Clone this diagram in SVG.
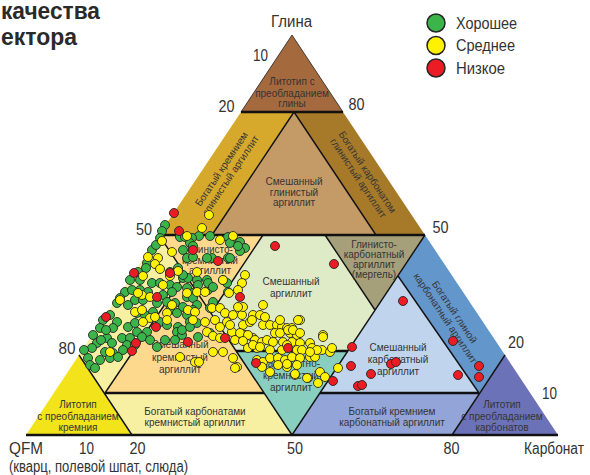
<svg xmlns="http://www.w3.org/2000/svg" width="590" height="475" viewBox="0 0 590 475">
<style>
.lbl{font-family:"Liberation Sans",Arial,sans-serif;font-size:10px;fill:#353535;text-anchor:middle}
.ax{font-family:"Liberation Sans",Arial,sans-serif;font-size:16px;fill:#333}
.mid{text-anchor:middle}
.ln{stroke:#111;stroke-width:1.4;fill:none}
.hl{stroke:#111;stroke-width:2.6;fill:none}
.d{stroke:#262626;stroke-width:0.9}
.g{fill:#3BB44A}.y{fill:#FFF200}.r{fill:#EC1C24}
</style>
<rect width="590" height="475" fill="#fff"/>
<g id="title">
<text x="1" y="19" font-family="Liberation Sans,Arial,sans-serif" font-weight="bold" font-size="24" fill="#2a2a2a" textLength="99" lengthAdjust="spacingAndGlyphs">качества</text>
<text x="1" y="45" font-family="Liberation Sans,Arial,sans-serif" font-weight="bold" font-size="24" fill="#2a2a2a" textLength="76" lengthAdjust="spacingAndGlyphs">ектора</text>
</g>
<g id="regions">
<g id="clay-dominated"><polygon points="292,35 241,112 343,112" fill="#A5693E" stroke="#222" stroke-width="0.8"/></g>
<g id="si-rich-clay"><polygon points="241,112 294,112 212,235 159,235" fill="#D6A92C"/></g>
<g id="mixed-clay"><polygon points="294,112 376,235 212,235" fill="#C49B66"/></g>
<g id="carb-rich-clay"><polygon points="294,112 343,112 425,235 376,235" fill="#A77A2A"/></g>
<g id="clay-rich-si"><polygon points="159,235 185,274.5 105,393 79,355" fill="#F7F0A2"/></g>
<g id="clay-si"><polygon points="159,235 263,235 211,313" fill="#FDD98E"/></g>
<g id="mixed-si"><polygon points="185,274.5 264,393 105,393" fill="#FDD98E"/></g>
<g id="mixed"><polygon points="263,235 325,235 375,310 348,351 236,351 211,313" fill="#DFEAC7"/></g>
<g id="marl"><polygon points="325,235 425,235 375,310" fill="#A5A07A"/></g>
<g id="clay-rich-carb"><polygon points="425,235 505,355 479,393 398,276" fill="#6396CB"/></g>
<g id="mixed-carb"><polygon points="398,276 479,393 320,393" fill="#C1D4EE"/></g>
<g id="carb-si"><polygon points="236,351 348,351 292,435" fill="#88CFBF"/></g>
<g id="si-dominated"><polygon points="26,435 79,355 132,435" fill="#F2E31B"/></g>
<g id="carb-rich-si"><polygon points="105,393 264,393 292,435 132,435" fill="#F7F0A2"/></g>
<g id="si-rich-carb"><polygon points="320,393 479,393 452,435 292,435" fill="#93A4D8"/></g>
<g id="carb-dominated"><polygon points="452,435 558,435 505,355" fill="#6C72B7"/></g>
</g>
<g id="connectors">
<line class="hl" x1="241" y1="112" x2="343" y2="112"/>
<line class="hl" x1="159" y1="235" x2="425" y2="235"/>
<line class="hl" x1="105" y1="393" x2="264" y2="393"/>
<line class="hl" x1="320" y1="393" x2="479" y2="393"/>
<line class="hl" x1="236" y1="351" x2="348" y2="351"/>
<line class="hl" x1="26" y1="435" x2="558" y2="435"/>
<line class="ln" x1="294" y1="112" x2="212" y2="235"/>
<line class="ln" x1="294" y1="112" x2="376" y2="235"/>
<line class="ln" x1="185" y1="274.5" x2="105" y2="393"/>
<line class="ln" x1="159" y1="235" x2="292" y2="435"/>
<line class="ln" x1="425" y1="235" x2="292" y2="435"/>
<line class="ln" x1="263" y1="235" x2="211" y2="313"/>
<line class="ln" x1="325" y1="235" x2="375" y2="310"/>
<line class="ln" x1="398" y1="276" x2="479" y2="393"/>
<line class="ln" x1="79" y1="355" x2="132" y2="435"/>
<line class="ln" x1="505" y1="355" x2="452" y2="435"/>
</g>
<g id="labels">
<text class="lbl" font-size="10.5"><tspan x="292" y="85">Литотип с</tspan><tspan x="292" y="96.5">преобладанием</tspan><tspan x="292" y="107">глины</tspan></text>
<text class="lbl" transform="translate(226,172) rotate(-56.4)"><tspan x="0" y="-2">Богатый кремнием</tspan><tspan x="0" y="9">глинистый аргиллит</tspan></text>
<text class="lbl"><tspan x="294" y="185">Смешанный</tspan><tspan x="294" y="195.5">глинистый</tspan><tspan x="294" y="206">аргиллит</tspan></text>
<text class="lbl" transform="translate(363,175) rotate(56.4)"><tspan x="0" y="-2">Богатый карбонатом</tspan><tspan x="0" y="9">глинистый аргиллит</tspan></text>
<text class="lbl"><tspan x="210" y="253">Глинисто-</tspan><tspan x="210" y="264">кремнистый</tspan><tspan x="210" y="274">аргиллит</tspan></text>
<text class="lbl" font-size="10.5"><tspan x="291" y="285">Смешанный</tspan><tspan x="291" y="297">аргиллит</tspan></text>
<text class="lbl" font-size="9"><tspan x="374" y="248">Глинисто-</tspan><tspan x="374" y="258">карбонатный</tspan><tspan x="374" y="268">аргиллит</tspan><tspan x="374" y="278">(мергель)</tspan></text>
<text class="lbl" transform="translate(450,315) rotate(56.4)"><tspan x="0" y="-2">Богатый глиной</tspan><tspan x="0" y="9">карбонатный аргиллит</tspan></text>
<text class="lbl"><tspan x="180" y="348">Смешанный</tspan><tspan x="180" y="361">кремнистый</tspan><tspan x="180" y="373">аргиллит</tspan></text>
<text class="lbl"><tspan x="291" y="367">Карбонатно-</tspan><tspan x="291" y="379">кремнистый</tspan><tspan x="291" y="391">аргиллит</tspan></text>
<text class="lbl"><tspan x="398" y="351">Смешанный</tspan><tspan x="398" y="363">карбонатный</tspan><tspan x="398" y="375">аргиллит</tspan></text>
<text class="lbl" font-size="9.5"><tspan x="78" y="408">Литотип</tspan><tspan x="78" y="420">с преобладанием</tspan><tspan x="78" y="431">кремния</tspan></text>
<text class="lbl" font-size="9.5"><tspan x="195" y="415">Богатый карбонатами</tspan><tspan x="195" y="426">кремнистый аргиллит</tspan></text>
<text class="lbl" font-size="9.5"><tspan x="392" y="415">Богатый кремнием</tspan><tspan x="392" y="426">карбонатный аргиллит</tspan></text>
<text class="lbl" font-size="9.5"><tspan x="502" y="408">Литотип</tspan><tspan x="502" y="420">с преобладанием</tspan><tspan x="502" y="431">карбонатов</tspan></text>
</g>
<g id="points">
<g id="good">
<circle class="d g" cx="165" cy="225" r="4.5"/><circle class="d g" cx="162" cy="231" r="4.5"/><circle class="d g" cx="180" cy="237" r="4.5"/><circle class="d g" cx="199" cy="236" r="4.5"/><circle class="d g" cx="210" cy="236" r="4.5"/><circle class="d g" cx="160" cy="238" r="4.5"/><circle class="d g" cx="192" cy="238" r="4.5"/><circle class="d g" cx="233" cy="240" r="4.5"/><circle class="d g" cx="240" cy="242" r="4.5"/><circle class="d g" cx="245" cy="248" r="4.5"/><circle class="d g" cx="240" cy="251" r="4.5"/><circle class="d g" cx="183" cy="250" r="4.5"/><circle class="d g" cx="187" cy="258" r="4.5"/><circle class="d g" cx="193" cy="257" r="4.5"/><circle class="d g" cx="212" cy="258" r="4.5"/><circle class="d g" cx="228" cy="258" r="4.5"/><circle class="d g" cx="147" cy="263" r="4.5"/><circle class="d g" cx="170" cy="272" r="4.5"/><circle class="d g" cx="178" cy="268" r="4.5"/><circle class="d g" cx="183" cy="278" r="4.5"/><circle class="d g" cx="188" cy="278" r="4.5"/><circle class="d g" cx="197" cy="280" r="4.5"/><circle class="d g" cx="207" cy="280" r="4.5"/><circle class="d g" cx="208" cy="290" r="4.5"/><circle class="d g" cx="227" cy="283" r="4.5"/><circle class="d g" cx="228" cy="292" r="4.5"/><circle class="d g" cx="130" cy="280" r="4.5"/><circle class="d g" cx="140" cy="280" r="4.5"/><circle class="d g" cx="152" cy="283" r="4.5"/><circle class="d g" cx="160" cy="283" r="4.5"/><circle class="d g" cx="170" cy="285" r="4.5"/><circle class="d g" cx="177" cy="287" r="4.5"/><circle class="d g" cx="187" cy="288" r="4.5"/><circle class="d g" cx="140" cy="290" r="4.5"/><circle class="d g" cx="148" cy="292" r="4.5"/><circle class="d g" cx="163" cy="295" r="4.5"/><circle class="d g" cx="172" cy="292" r="4.5"/><circle class="d g" cx="187" cy="297" r="4.5"/><circle class="d g" cx="193" cy="293" r="4.5"/><circle class="d g" cx="117" cy="303" r="4.5"/><circle class="d g" cx="128" cy="305" r="4.5"/><circle class="d g" cx="135" cy="300" r="4.5"/><circle class="d g" cx="143" cy="300" r="4.5"/><circle class="d g" cx="157" cy="303" r="4.5"/><circle class="d g" cx="167" cy="302" r="4.5"/><circle class="d g" cx="175" cy="303" r="4.5"/><circle class="d g" cx="183" cy="307" r="4.5"/><circle class="d g" cx="170" cy="310" r="4.5"/><circle class="d g" cx="177" cy="313" r="4.5"/><circle class="d g" cx="187" cy="315" r="4.5"/><circle class="d g" cx="110" cy="315" r="4.5"/><circle class="d g" cx="137" cy="313" r="4.5"/><circle class="d g" cx="145" cy="315" r="4.5"/><circle class="d g" cx="153" cy="312" r="4.5"/><circle class="d g" cx="103" cy="320" r="4.5"/><circle class="d g" cx="117" cy="322" r="4.5"/><circle class="d g" cx="128" cy="327" r="4.5"/><circle class="d g" cx="135" cy="323" r="4.5"/><circle class="d g" cx="160" cy="322" r="4.5"/><circle class="d g" cx="167" cy="325" r="4.5"/><circle class="d g" cx="178" cy="327" r="4.5"/><circle class="d g" cx="190" cy="322" r="4.5"/><circle class="d g" cx="197" cy="323" r="4.5"/><circle class="d g" cx="113" cy="328" r="4.5"/><circle class="d g" cx="100" cy="328" r="4.5"/><circle class="d g" cx="137" cy="332" r="4.5"/><circle class="d g" cx="147" cy="332" r="4.5"/><circle class="d g" cx="177" cy="332" r="4.5"/><circle class="d g" cx="182" cy="335" r="4.5"/><circle class="d g" cx="93" cy="335" r="4.5"/><circle class="d g" cx="107" cy="338" r="4.5"/><circle class="d g" cx="122" cy="338" r="4.5"/><circle class="d g" cx="130" cy="338" r="4.5"/><circle class="d g" cx="142" cy="337" r="4.5"/><circle class="d g" cx="175" cy="340" r="4.5"/><circle class="d g" cx="97" cy="343" r="4.5"/><circle class="d g" cx="112" cy="343" r="4.5"/><circle class="d g" cx="127" cy="345" r="4.5"/><circle class="d g" cx="135" cy="345" r="4.5"/><circle class="d g" cx="157" cy="347" r="4.5"/><circle class="d g" cx="92" cy="348" r="4.5"/><circle class="d g" cx="105" cy="352" r="4.5"/><circle class="d g" cx="113" cy="353" r="4.5"/><circle class="d g" cx="123" cy="350" r="4.5"/><circle class="d g" cx="88" cy="358" r="4.5"/><circle class="d g" cx="100" cy="360" r="4.5"/><circle class="d g" cx="110" cy="358" r="4.5"/><circle class="d g" cx="90" cy="365" r="4.5"/><circle class="d g" cx="95" cy="368" r="4.5"/><circle class="d g" cx="185" cy="237" r="4.5"/><circle class="d g" cx="228" cy="237" r="4.5"/><circle class="d g" cx="190" cy="243" r="4.5"/><circle class="d g" cx="193" cy="246" r="4.5"/><circle class="d g" cx="230" cy="243" r="4.5"/><circle class="d g" cx="238" cy="246" r="4.5"/><circle class="d g" cx="207" cy="258" r="4.5"/><circle class="d g" cx="230" cy="258" r="4.5"/><circle class="d g" cx="183" cy="275" r="4.5"/><circle class="d g" cx="208" cy="283" r="4.5"/><circle class="d g" cx="223" cy="280" r="4.5"/><circle class="d g" cx="198" cy="285" r="4.5"/><circle class="d g" cx="213" cy="287" r="4.5"/><circle class="d g" cx="193" cy="298" r="4.5"/><circle class="d g" cx="197" cy="305" r="4.5"/><circle class="d g" cx="193" cy="310" r="4.5"/><circle class="d g" cx="210" cy="308" r="4.5"/><circle class="d g" cx="213" cy="302" r="4.5"/><circle class="d g" cx="182" cy="330" r="4.5"/><circle class="d g" cx="190" cy="327" r="4.5"/><circle class="d g" cx="210" cy="333" r="4.5"/><circle class="d g" cx="198" cy="337" r="4.5"/><circle class="d g" cx="152" cy="250" r="4.5"/><circle class="d g" cx="156" cy="245" r="4.5"/><circle class="d g" cx="146" cy="268" r="4.5"/><circle class="d g" cx="138" cy="272" r="4.5"/><circle class="d g" cx="125" cy="292" r="4.5"/><circle class="d g" cx="132" cy="290" r="4.5"/><circle class="d g" cx="120" cy="298" r="4.5"/><circle class="d g" cx="106" cy="330" r="4.5"/><circle class="d g" cx="101" cy="340" r="4.5"/><circle class="d g" cx="84" cy="350" r="4.5"/><circle class="d g" cx="118" cy="357" r="4.5"/><circle class="d g" cx="150" cy="340" r="4.5"/><circle class="d g" cx="165" cy="340" r="4.5"/>
</g>
<g id="medium">
<circle class="d y" cx="209" cy="215" r="4.5"/><circle class="d y" cx="202" cy="228" r="4.5"/><circle class="d y" cx="187" cy="236" r="4.5"/><circle class="d y" cx="162" cy="241" r="4.5"/><circle class="d y" cx="220" cy="240" r="4.5"/><circle class="d y" cx="233" cy="236" r="4.5"/><circle class="d y" cx="172" cy="252" r="4.5"/><circle class="d y" cx="148" cy="257" r="4.5"/><circle class="d y" cx="158" cy="258" r="4.5"/><circle class="d y" cx="155" cy="264" r="4.5"/><circle class="d y" cx="160" cy="269" r="4.5"/><circle class="d y" cx="178" cy="271" r="4.5"/><circle class="d y" cx="170" cy="276" r="4.5"/><circle class="d y" cx="143" cy="276" r="4.5"/><circle class="d y" cx="197" cy="272" r="4.5"/><circle class="d y" cx="223" cy="280" r="4.5"/><circle class="d y" cx="163" cy="285" r="4.5"/><circle class="d y" cx="120" cy="300" r="4.5"/><circle class="d y" cx="142" cy="295" r="4.5"/><circle class="d y" cx="150" cy="297" r="4.5"/><circle class="d y" cx="172" cy="305" r="4.5"/><circle class="d y" cx="187" cy="293" r="4.5"/><circle class="d y" cx="197" cy="292" r="4.5"/><circle class="d y" cx="205" cy="292" r="4.5"/><circle class="d y" cx="167" cy="313" r="4.5"/><circle class="d y" cx="150" cy="318" r="4.5"/><circle class="d y" cx="135" cy="312" r="4.5"/><circle class="d y" cx="143" cy="322" r="4.5"/><circle class="d y" cx="155" cy="317" r="4.5"/><circle class="d y" cx="167" cy="320" r="4.5"/><circle class="d y" cx="188" cy="310" r="4.5"/><circle class="d y" cx="195" cy="312" r="4.5"/><circle class="d y" cx="193" cy="320" r="4.5"/><circle class="d y" cx="205" cy="322" r="4.5"/><circle class="d y" cx="212" cy="308" r="4.5"/><circle class="d y" cx="220" cy="308" r="4.5"/><circle class="d y" cx="225" cy="313" r="4.5"/><circle class="d y" cx="233" cy="315" r="4.5"/><circle class="d y" cx="242" cy="315" r="4.5"/><circle class="d y" cx="243" cy="307" r="4.5"/><circle class="d y" cx="253" cy="315" r="4.5"/><circle class="d y" cx="215" cy="320" r="4.5"/><circle class="d y" cx="220" cy="327" r="4.5"/><circle class="d y" cx="227" cy="322" r="4.5"/><circle class="d y" cx="232" cy="332" r="4.5"/><circle class="d y" cx="207" cy="332" r="4.5"/><circle class="d y" cx="213" cy="336" r="4.5"/><circle class="d y" cx="220" cy="338" r="4.5"/><circle class="d y" cx="235" cy="340" r="4.5"/><circle class="d y" cx="245" cy="335" r="4.5"/><circle class="d y" cx="253" cy="338" r="4.5"/><circle class="d y" cx="257" cy="348" r="4.5"/><circle class="d y" cx="223" cy="352" r="4.5"/><circle class="d y" cx="213" cy="352" r="4.5"/><circle class="d y" cx="110" cy="352" r="4.5"/><circle class="d y" cx="180" cy="357" r="4.5"/><circle class="d y" cx="195" cy="362" r="4.5"/><circle class="d y" cx="233" cy="358" r="4.5"/><circle class="d y" cx="237" cy="367" r="4.5"/><circle class="d y" cx="257" cy="362" r="4.5"/><circle class="d y" cx="245" cy="275" r="4.5"/><circle class="d y" cx="229" cy="293" r="4.5"/><circle class="d y" cx="238" cy="307" r="4.5"/><circle class="d y" cx="263" cy="305" r="4.5"/><circle class="d y" cx="260" cy="315" r="4.5"/><circle class="d y" cx="230" cy="325" r="4.5"/><circle class="d y" cx="243" cy="325" r="4.5"/><circle class="d y" cx="250" cy="322" r="4.5"/><circle class="d y" cx="263" cy="325" r="4.5"/><circle class="d y" cx="270" cy="325" r="4.5"/><circle class="d y" cx="277" cy="325" r="4.5"/><circle class="d y" cx="282" cy="327" r="4.5"/><circle class="d y" cx="287" cy="328" r="4.5"/><circle class="d y" cx="292" cy="328" r="4.5"/><circle class="d y" cx="300" cy="320" r="4.5"/><circle class="d y" cx="275" cy="333" r="4.5"/><circle class="d y" cx="280" cy="333" r="4.5"/><circle class="d y" cx="290" cy="333" r="4.5"/><circle class="d y" cx="297" cy="335" r="4.5"/><circle class="d y" cx="240" cy="333" r="4.5"/><circle class="d y" cx="248" cy="335" r="4.5"/><circle class="d y" cx="243" cy="341" r="4.5"/><circle class="d y" cx="255" cy="340" r="4.5"/><circle class="d y" cx="262" cy="342" r="4.5"/><circle class="d y" cx="267" cy="340" r="4.5"/><circle class="d y" cx="273" cy="342" r="4.5"/><circle class="d y" cx="283" cy="342" r="4.5"/><circle class="d y" cx="292" cy="342" r="4.5"/><circle class="d y" cx="300" cy="343" r="4.5"/><circle class="d y" cx="310" cy="343" r="4.5"/><circle class="d y" cx="323" cy="335" r="4.5"/><circle class="d y" cx="248" cy="348" r="4.5"/><circle class="d y" cx="253" cy="345" r="4.5"/><circle class="d y" cx="260" cy="347" r="4.5"/><circle class="d y" cx="270" cy="350" r="4.5"/><circle class="d y" cx="282" cy="350" r="4.5"/><circle class="d y" cx="287" cy="345" r="4.5"/><circle class="d y" cx="297" cy="350" r="4.5"/><circle class="d y" cx="302" cy="350" r="4.5"/><circle class="d y" cx="312" cy="348" r="4.5"/><circle class="d y" cx="322" cy="350" r="4.5"/><circle class="d y" cx="330" cy="352" r="4.5"/><circle class="d y" cx="257" cy="360" r="4.5"/><circle class="d y" cx="263" cy="362" r="4.5"/><circle class="d y" cx="270" cy="358" r="4.5"/><circle class="d y" cx="278" cy="358" r="4.5"/><circle class="d y" cx="285" cy="360" r="4.5"/><circle class="d y" cx="292" cy="357" r="4.5"/><circle class="d y" cx="300" cy="358" r="4.5"/><circle class="d y" cx="310" cy="357" r="4.5"/><circle class="d y" cx="315" cy="357" r="4.5"/><circle class="d y" cx="262" cy="367" r="4.5"/><circle class="d y" cx="270" cy="372" r="4.5"/><circle class="d y" cx="278" cy="365" r="4.5"/><circle class="d y" cx="287" cy="367" r="4.5"/><circle class="d y" cx="295" cy="375" r="4.5"/><circle class="d y" cx="308" cy="378" r="4.5"/><circle class="d y" cx="320" cy="372" r="4.5"/><circle class="d y" cx="325" cy="377" r="4.5"/><circle class="d y" cx="338" cy="368" r="4.5"/><circle class="d y" cx="318" cy="383" r="4.5"/><circle class="d y" cx="235" cy="368" r="4.5"/><circle class="d y" cx="242" cy="283" r="4.5"/><circle class="d y" cx="238" cy="290" r="4.5"/><circle class="d y" cx="252" cy="320" r="4.5"/><circle class="d y" cx="265" cy="317" r="4.5"/><circle class="d y" cx="280" cy="320" r="4.5"/><circle class="d y" cx="288" cy="330" r="4.5"/><circle class="d y" cx="293" cy="330" r="4.5"/><circle class="d y" cx="298" cy="320" r="4.5"/><circle class="d y" cx="300" cy="333" r="4.5"/><circle class="d y" cx="323" cy="337" r="4.5"/><circle class="d y" cx="317" cy="350" r="4.5"/><circle class="d y" cx="310" cy="352" r="4.5"/><circle class="d y" cx="332" cy="348" r="4.5"/><circle class="d y" cx="297" cy="365" r="4.5"/><circle class="d y" cx="287" cy="364" r="4.5"/><circle class="d y" cx="295" cy="374" r="4.5"/><circle class="d y" cx="307" cy="378" r="4.5"/><circle class="d y" cx="199" cy="362" r="4.5"/><circle class="d y" cx="138" cy="293" r="4.5"/><circle class="d y" cx="142" cy="310" r="4.5"/>
</g>
<g id="low">
<circle class="d r" cx="174" cy="213" r="4.5"/><circle class="d r" cx="179" cy="231" r="4.5"/><circle class="d r" cx="193" cy="250" r="4.5"/><circle class="d r" cx="218" cy="261" r="4.5"/><circle class="d r" cx="170" cy="273" r="4.5"/><circle class="d r" cx="134" cy="273" r="4.5"/><circle class="d r" cx="157" cy="297" r="4.5"/><circle class="d r" cx="156" cy="327" r="4.5"/><circle class="d r" cx="136" cy="343" r="4.5"/><circle class="d r" cx="132" cy="351" r="4.5"/><circle class="d r" cx="106" cy="317" r="4.5"/><circle class="d r" cx="188" cy="342" r="4.5"/><circle class="d r" cx="240" cy="297" r="4.5"/><circle class="d r" cx="225" cy="338" r="4.5"/><circle class="d r" cx="275" cy="246" r="4.5"/><circle class="d r" cx="334" cy="264" r="4.5"/><circle class="d r" cx="288" cy="348" r="4.5"/><circle class="d r" cx="256" cy="363" r="4.5"/><circle class="d r" cx="352" cy="347" r="4.5"/><circle class="d r" cx="351" cy="366" r="4.5"/><circle class="d r" cx="333" cy="381" r="4.5"/><circle class="d r" cx="358" cy="386" r="4.5"/><circle class="d r" cx="362" cy="385" r="4.5"/><circle class="d r" cx="371" cy="374" r="4.5"/><circle class="d r" cx="391" cy="364" r="4.5"/><circle class="d r" cx="396" cy="362" r="4.5"/><circle class="d r" cx="403" cy="301" r="4.5"/><circle class="d r" cx="453" cy="341" r="4.5"/><circle class="d r" cx="458" cy="375" r="4.5"/><circle class="d r" cx="479" cy="366" r="4.5"/><circle class="d r" cx="479" cy="377" r="4.5"/>
</g>
</g>
<g id="legend">
<circle cx="436" cy="23" r="9" fill="#3BB44A" stroke="#262626" stroke-width="1.5"/>
<circle cx="436" cy="45.5" r="9" fill="#FFF200" stroke="#262626" stroke-width="1.5"/>
<circle cx="436" cy="68" r="9" fill="#EC1C24" stroke="#262626" stroke-width="1.5"/>
<text class="ax" x="456" y="28.5" font-size="15" textLength="61" lengthAdjust="spacingAndGlyphs">Хорошее</text>
<text class="ax" x="456" y="51" font-size="15" textLength="59" lengthAdjust="spacingAndGlyphs">Среднее</text>
<text class="ax" x="456" y="74" font-size="15" textLength="49" lengthAdjust="spacingAndGlyphs">Низкое</text>
</g>
<g id="axes">
<text class="ax" x="271" y="27" font-size="17" textLength="41" lengthAdjust="spacingAndGlyphs">Глина</text>
<text class="ax mid" x="260.5" y="61" textLength="15" lengthAdjust="spacingAndGlyphs">10</text>
<text class="ax mid" x="226.5" y="112" textLength="16" lengthAdjust="spacingAndGlyphs">20</text>
<text class="ax mid" x="356.5" y="110" textLength="16" lengthAdjust="spacingAndGlyphs">80</text>
<text class="ax mid" x="144" y="235" textLength="16" lengthAdjust="spacingAndGlyphs">50</text>
<text class="ax mid" x="440.5" y="233" textLength="16" lengthAdjust="spacingAndGlyphs">50</text>
<text class="ax mid" x="67" y="354" textLength="17" lengthAdjust="spacingAndGlyphs">80</text>
<text class="ax mid" x="516" y="348" textLength="16" lengthAdjust="spacingAndGlyphs">20</text>
<text class="ax mid" x="549.5" y="399" textLength="15" lengthAdjust="spacingAndGlyphs">10</text>
<text class="ax" x="9" y="454" textLength="34" lengthAdjust="spacingAndGlyphs">QFM</text>
<text class="ax mid" x="86.5" y="454" textLength="15" lengthAdjust="spacingAndGlyphs">10</text>
<text class="ax mid" x="137.5" y="454" textLength="16" lengthAdjust="spacingAndGlyphs">20</text>
<text class="ax mid" x="295" y="454" textLength="16" lengthAdjust="spacingAndGlyphs">50</text>
<text class="ax mid" x="451.5" y="454" textLength="16" lengthAdjust="spacingAndGlyphs">80</text>
<text class="ax" x="524" y="454" textLength="60" lengthAdjust="spacingAndGlyphs">Карбонат</text>
<text class="ax" x="9" y="472" font-size="12" textLength="179" lengthAdjust="spacingAndGlyphs">(кварц, полевой шпат, слюда)</text>
</g>
</svg>
